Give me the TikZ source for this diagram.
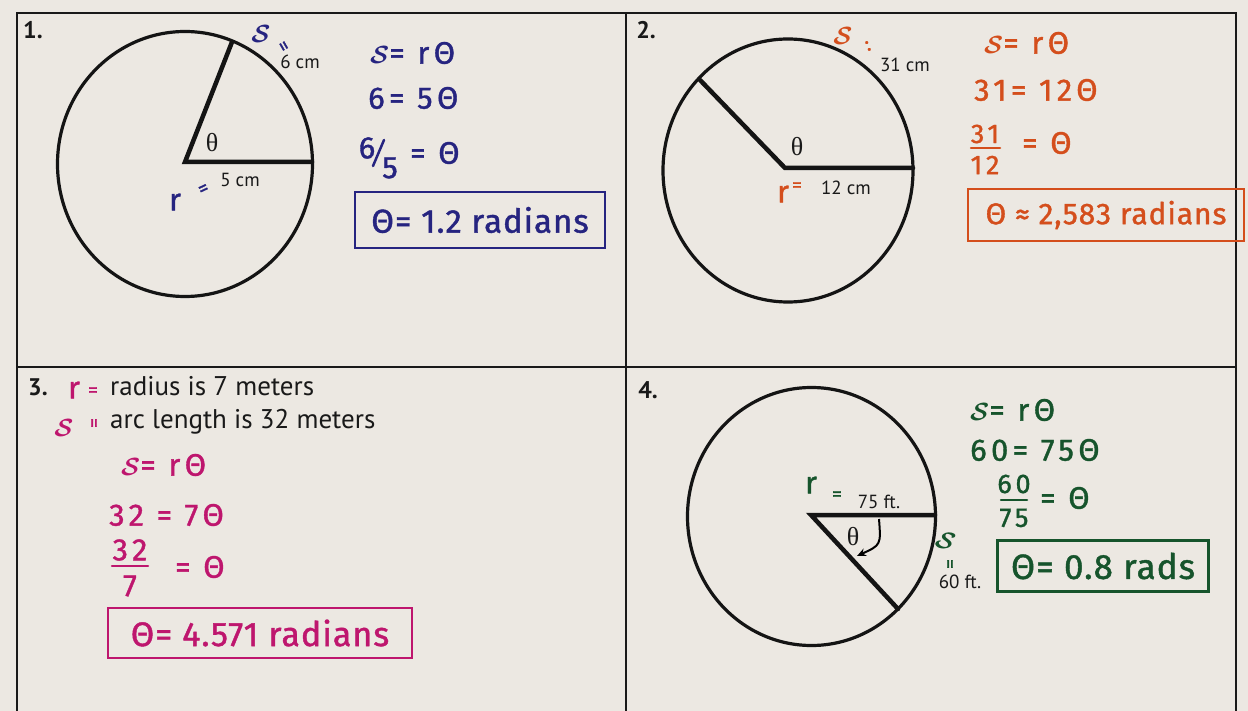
\documentclass[tikz,border=0pt]{standalone}
\usepackage{bm}
\usepackage{fontspec}
\newfontfamily\prt{PT Sans}
\newfontfamily\grk{Liberation Serif}
\newfontfamily\hand[LetterSpace=14, FakeBold=1.2]{Fira Sans}
\newfontfamily\handb[LetterSpace=3, FakeBold=1.2]{Fira Sans}
\usetikzlibrary{arrows.meta}
\definecolor{bg}{RGB}{236,232,226}
\definecolor{inkb}{RGB}{38,36,128}
\definecolor{inko}{RGB}{212,78,28}
\definecolor{inkm}{RGB}{190,22,110}
\definecolor{inkg}{RGB}{22,84,44}
\newcommand{\hS}{{\fontsize{40}{40}\selectfont$\bm{\mathcal{S}}$}}
\tikzset{
  circ/.style={line width=3.2pt, draw=black!92},
  rad/.style={line width=4.5pt, line cap=round, draw=black!92},
  frame/.style={line width=2pt, draw=black!90},
  lbl/.style={font=\prt\fontsize{19}{19}\selectfont, inner sep=0pt, text=black!90},
  num/.style={font=\prt\bfseries\fontsize{24}{24}\selectfont, inner sep=0pt, text=black!90},
  txt/.style={font=\prt\fontsize{27}{27}\selectfont, inner sep=0pt, text=black!90},
  th/.style={font=\grk\fontsize{26}{26}\selectfont, inner sep=0pt, text=black!90},
  hw/.style={font=\hand\fontsize{31}{31}\selectfont, inner sep=0pt},
  hwfr/.style={font=\hand\fontsize{27}{27}\selectfont, inner sep=0pt},
  hwsm/.style={font=\hand\fontsize{20}{20}\selectfont, inner sep=0pt},
  scS/.style={inner sep=0pt},
  ansbox/.style={draw, line width=2.8pt, inner sep=0pt},
  fbar/.style={line width=2.5pt, line cap=round},
}
\begin{document}
\begin{tikzpicture}[x=1pt,y=-1pt]
\useasboundingbox (0,0) rectangle (1248,711);
\fill[bg] (0,0) rectangle (1248,711);
% frame
\draw[frame] (17,711) -- (17,13) -- (1236,13) -- (1236,711);
\draw[frame] (626,13) -- (626,711);
\draw[frame] (17,367) -- (1236,367);

% ---------- panel 1 ----------
\node[num] (n1) at (33,30) {1.};
\coordinate (c1) at (185,162);
\coordinate (p1a) at (312,162);
\coordinate (p1b) at (232,42);
\draw[circ] (185,164) ellipse [x radius=127.5, y radius=132.5];
\draw[rad] (p1a) -- (c1) -- (p1b);
\node[th] (t1) at (212,143) {θ};
\node[lbl] (l1r) at (240,180) {5 cm};
\node[lbl] (l1s) at (300,62) {6 cm};
\node[hw, text=inkb] (r1) at (175,202) {r};
\node[hwsm, text=inkb, rotate=25] (r1e) at (204,190) {=};
\node[scS, text=inkb] (s1) at (261,34) {\hS};
\node[hwsm, text=inkb, rotate=-60] (s1e) at (282,47) {=};
\node[hw, text=inkb, anchor=west] (e1a) at (370,53) {\hS= rΘ};
\node[hw, text=inkb, anchor=west] (e1b) at (368,98) {6= 5Θ};
\node[hw, text=inkb] (e1n) at (367,148) {6};
\node[hw, text=inkb] (e1d) at (390,168) {5};
\coordinate (sl1a) at (373,166);
\coordinate (sl1b) at (384,140);
\draw[fbar, inkb] (sl1a) -- (sl1b);
\node[hw, text=inkb, anchor=west] (e1c) at (410,153) {= Θ};
\node[ansbox, draw=inkb, text=inkb, minimum width=250, minimum height=56,
      font=\handb\fontsize{33}{33}\selectfont] (a1) at (480,220) {Θ= 1.2 radians};

% ---------- panel 2 ----------
\node[num] (n2) at (646,30) {2.};
\coordinate (c2) at (785,168);
\coordinate (p2a) at (913,168);
\coordinate (p2b) at (700,80);
\draw[circ] (788,170.5) ellipse [x radius=125, y radius=131.5];
\draw[rad] (p2a) -- (c2) -- (p2b);
\node[th] (t2) at (797,147) {θ};
\node[lbl] (l2r) at (846,188) {12 cm};
\node[lbl] (l2s) at (905,65) {31 cm};
\node[hw, text=inko] (r2) at (783,194) {r};
\node[hwsm, text=inko] (r2e) at (797,187) {=};
\node[scS, text=inko] (s2) at (843,36) {\hS};
\node[hwsm, text=inko, rotate=20] (s2e) at (868,46) {:};
\node[hw, text=inko, anchor=west] (e2a) at (984,43) {\hS= rΘ};
\node[hw, text=inko, anchor=west] (e2b) at (974,90) {31= 12Θ};
\node[hwfr, text=inko] (f2n) at (985,134) {31};
\node[hwfr, text=inko] (f2d) at (985,165) {12};
\coordinate (f2a) at (971,148);
\coordinate (f2b) at (1000,148);
\draw[fbar, inko] (f2a) -- (f2b);
\node[hw, text=inko, anchor=west] (e2c) at (1022,143) {= Θ};
\node[ansbox, draw=inko, text=inko, minimum width=276, minimum height=52,
      font=\handb\fontsize{30}{30}\selectfont] (a2) at (1106,215) {Θ ≈ 2,583 radians};

% ---------- panel 3 ----------
\node[num] (n3) at (38,387) {3.};
\node[hw, text=inkm] (r3) at (74,390) {r};
\node[hwsm, text=inkm] (r3e) at (93,392) {=};
\node[txt, anchor=west] (q3a) at (110,386) {radius is 7 meters};
\node[scS, text=inkm] (s3) at (64,428) {\hS};
\node[hwsm, text=inkm, rotate=90] (s3e) at (96,423) {=};
\node[txt, anchor=west] (q3b) at (110,422) {arc length is 32 meters};
\node[hw, text=inkm, anchor=west] (e3a) at (121,465) {\hS= rΘ};
\node[hw, text=inkm, anchor=west] (e3b) at (109,515) {32 = 7Θ};
\node[hw, text=inkm] (f3n) at (130,550) {32};
\node[hw, text=inkm] (f3d) at (130,586) {7};
\coordinate (f3a) at (112,566);
\coordinate (f3b) at (148,566);
\draw[fbar, inkm] (f3a) -- (f3b);
\node[hw, text=inkm, anchor=west] (e3c) at (175,567) {= Θ};
\node[ansbox, draw=inkm, text=inkm, minimum width=304, minimum height=50,
      font=\handb\fontsize{34}{34}\selectfont] (a3) at (260,633) {Θ= 4.571 radians};

% ---------- panel 4 ----------
\node[num] (n4) at (648,390) {4.};
\coordinate (c4) at (811,515);
\coordinate (p4a) at (935,515);
\coordinate (p4b) at (898,609);
\draw[circ] (811.5,516.5) ellipse [x radius=124, y radius=129];
\draw[rad] (p4a) -- (c4) -- (p4b);
\node[th] (t4) at (853,537) {θ};
\coordinate (ar4s) at (879,519);
\coordinate (ar4e) at (857,556);
\draw[line width=2pt, -{Stealth[length=9pt,width=8pt]}] (ar4s) .. controls (881,545) .. (ar4e);
\node[lbl] (l4r) at (879,502) {75 ft.};
\node[lbl] (l4s) at (960,582) {60 ft.};
\node[hw, text=inkg] (r4) at (811,485) {r};
\node[hwsm, text=inkg] (r4e) at (837,496) {=};
\node[scS, text=inkg, rotate=-15] (s4) at (946,541) {\hS};
\node[hwsm, text=inkg, rotate=90] (s4e) at (952,564) {=};
\node[hw, text=inkg, anchor=west] (e4a) at (970,410) {\hS= rΘ};
\node[hw, text=inkg, anchor=west] (e4b) at (970,450) {60= 75Θ};
\node[hwfr, text=inkg] (f4n) at (1014,484) {60};
\node[hwfr, text=inkg] (f4d) at (1014,518) {75};
\coordinate (f4a) at (1001,500);
\coordinate (f4b) at (1027,500);
\draw[fbar, inkg] (f4a) -- (f4b);
\node[hw, text=inkg, anchor=west] (e4c) at (1040,498) {= Θ};
\node[ansbox, draw=inkg, text=inkg, minimum width=211, minimum height=51,
      font=\handb\fontsize{35}{35}\selectfont] (a4) at (1103,566) {Θ= 0.8 rads};
\end{tikzpicture}
\end{document}
